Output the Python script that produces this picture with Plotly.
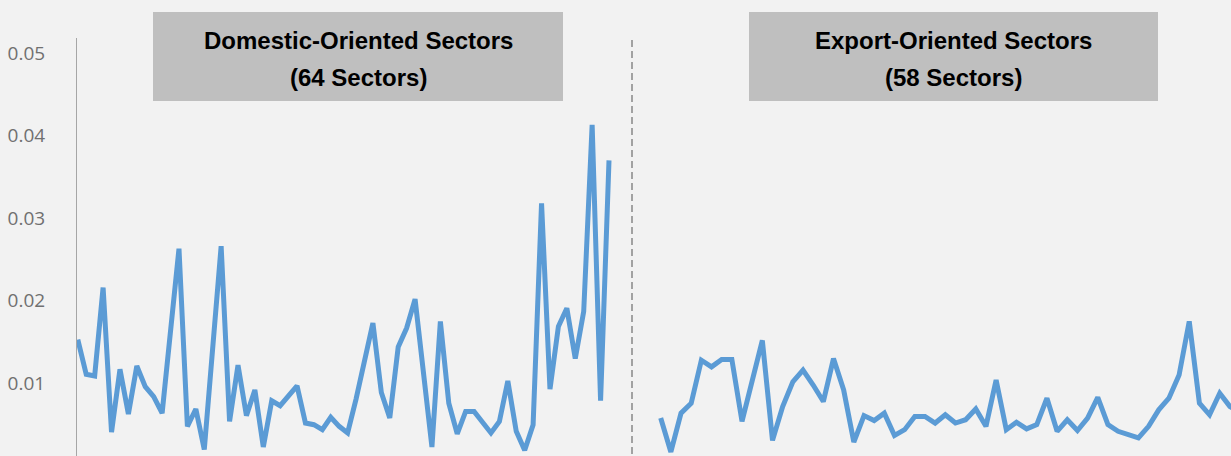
import plotly.graph_objects as go

# ---- data ----
dom_sectors = list(range(1, 65))
dom_values = [0.0153, 0.0111, 0.0109, 0.0216, 0.0041, 0.0117, 0.0063, 0.0121, 0.0096, 0.0084,
              0.0064, 0.0165, 0.0263, 0.0048, 0.0069, 0.0020, 0.0142, 0.0266, 0.0054, 0.0122,
              0.0061, 0.0092, 0.0023, 0.0079, 0.0073, 0.0086, 0.0097, 0.0052, 0.0050, 0.0044,
              0.0059, 0.0048, 0.0040, 0.0081, 0.0125, 0.0173, 0.0089, 0.0058, 0.0144, 0.0167,
              0.0202, 0.0116, 0.0023, 0.0175, 0.0076, 0.0039, 0.0066, 0.0066, 0.0054, 0.0040,
              0.0054, 0.0103, 0.0042, 0.0019, 0.0050, 0.0318, 0.0093, 0.0169, 0.0191, 0.0130,
              0.0187, 0.0413, 0.0079, 0.0370]
exp_sectors = list(range(1, 59))
exp_values = [0.0058, 0.0017, 0.0064, 0.0076, 0.0128, 0.0120, 0.0129, 0.0129, 0.0054, 0.0102,
              0.0152, 0.0031, 0.0072, 0.0102, 0.0116, 0.0098, 0.0078, 0.0130, 0.0092, 0.0029,
              0.0061, 0.0055, 0.0064, 0.0037, 0.0044, 0.0060, 0.0060, 0.0052, 0.0062, 0.0052,
              0.0056, 0.0069, 0.0048, 0.0104, 0.0044, 0.0053, 0.0045, 0.0050, 0.0082, 0.0042,
              0.0056, 0.0043, 0.0058, 0.0083, 0.0050, 0.0042, 0.0038, 0.0034, 0.0048, 0.0068,
              0.0082, 0.0110, 0.0175, 0.0076, 0.0062, 0.0088, 0.0072, 0.0065]
y_ticks = [0.01, 0.02, 0.03, 0.04, 0.05]
y_tick_labels = ["0.01", "0.02", "0.03", "0.04", "0.05"]
panel_titles = [("Domestic-Oriented Sectors", "(64 Sectors)"),
                ("Export-Oriented Sectors", "(58 Sectors)")]

# ---- layout geometry (pixels) ----
W, H = 1231, 456
ML, MT = 77, 38
PW, PH = W - ML, H - MT
def px(x):
    return (x - ML) / PW
def py(y):
    return (H - y) / PH

split = px(632)
LINE = "#5b9bd5"
BG = "#f2f2f2"

fig = go.Figure()
fig.add_trace(go.Scatter(x=dom_sectors, y=dom_values, mode="lines",
                         line=dict(color=LINE, width=5), xaxis="x", yaxis="y",
                         showlegend=False))
fig.add_trace(go.Scatter(x=exp_sectors, y=exp_values, mode="lines",
                         line=dict(color=LINE, width=5), xaxis="x2", yaxis="y",
                         showlegend=False))

# domestic: sector 1 at px 77.8, sector 64 at px 609
s1 = (609 - 77.8) / 63
x_dom_range = [1 - (77.8 - 77) / s1, 1 + (632 - 77.8) / s1]
# export: sector 1 at px 660.7, sector 57 at px 1229.9
s2 = (1229.9 - 660.7) / 56
x_exp_range = [1 - (660.7 - 632) / s2, 1 + (1231 - 660.7) / s2]

fig.update_layout(
    width=W, height=H,
    margin=dict(l=ML, r=0, t=MT, b=0),
    paper_bgcolor=BG, plot_bgcolor=BG,
    hovermode=False,
    xaxis=dict(domain=[0, split], range=x_dom_range, visible=False),
    xaxis2=dict(domain=[split, 1], range=x_exp_range, visible=False, anchor="y"),
    yaxis=dict(range=[(466 - 456) / 8262, (466 - 38) / 8262], tickvals=y_ticks,
               ticktext=y_tick_labels, showgrid=False, zeroline=False,
               showline=True, linecolor="#a6a6a6", linewidth=1,
               ticks="", ticklabelstandoff=27,
               tickfont=dict(family="Open Sans, Segoe UI, sans-serif", size=19, color="#707070")),
)

shapes = [dict(type="line", xref="paper", yref="paper", x0=split, x1=split,
               y0=py(40), y1=-0.05, line=dict(color="#9a9a9a", width=1.8, dash="7px,4px"))]
boxes = [(153, 563), (749, 1158)]
annotations = []
for (bx0, bx1), (t1, t2) in zip(boxes, panel_titles):
    shapes.append(dict(type="rect", xref="paper", yref="paper", x0=px(bx0), x1=px(bx1),
                       y0=py(101), y1=py(12), fillcolor="#bfbfbf", line=dict(width=0),
                       layer="above"))
    cx = px((bx0 + bx1) / 2)
    for txt, ty in ((t1, 41), (t2, 77)):
        annotations.append(dict(text=f"<b>{txt}</b>", xref="paper", yref="paper",
                                x=cx, y=py(ty), xanchor="center", yanchor="middle",
                                showarrow=False,
                                font=dict(family="Liberation Sans Narrow, Arial Narrow, Liberation Sans, Arial",
                                          size=24, color="#000000")))
fig.update_layout(shapes=shapes, annotations=annotations)

fig.write_html("out.html", config={"displayModeBar": False, "staticPlot": True},
               post_script="document.body.style.margin='0';document.body.style.overflow='hidden';")
